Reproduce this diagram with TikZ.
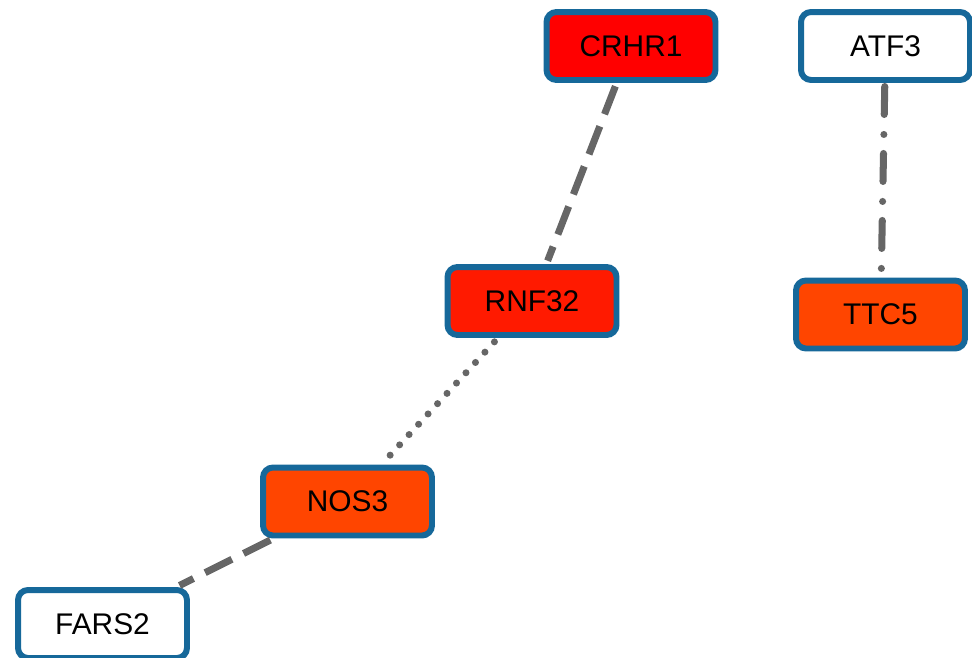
\documentclass[tikz,border=0pt]{standalone}
\usepackage{fontspec}
\setmainfont{Liberation Sans}
\usepackage{xcolor}
\usepackage{tikz}
\usetikzlibrary{calc}
\definecolor{genebd}{RGB}{22,104,154}
\definecolor{edgegray}{RGB}{102,102,102}
\definecolor{upred}{RGB}{255,0,0}
\definecolor{upredb}{RGB}{255,26,0}
\definecolor{uporange}{RGB}{255,69,0}
\tikzset{gene/.style={draw=genebd,line width=3.4pt,rounded corners=0.2cm,minimum width=3.38cm,minimum height=1.36cm,inner sep=0pt,font=\fontsize{17}{20}\selectfont},
  link/.style={draw=edgegray,line width=4pt},
  longdash/.style={link,dash pattern=on 0.6cm off 0.26cm},
  dotline/.style={link,line cap=round,dash pattern=on 0cm off 0.28cm},
  dashdotline/.style={link,line cap=round,dash pattern=on 0.56cm off 0.4cm on 0cm off 0.38cm}}

\begin{document}
\begin{tikzpicture}[x=0.02cm,y=-0.02cm]
\useasboundingbox (0,0) rectangle (972,657);
\node [gene,fill=upred] (crhr1) at (631,46) {CRHR1};
\node [gene,fill=white] (atf3) at (885.5,46) {ATF3};
\node [gene,fill=upredb] (rnf32) at (532,301) {RNF32};
\node [gene,fill=uporange] (ttc5) at (880.5,314.5) {TTC5};
\node [gene,fill=uporange] (nos3) at (347.5,501.5) {NOS3};
\node [gene,fill=white] (fars2) at (102.5,624) {FARS2};
\draw [longdash,shorten <=2pt,shorten >=2pt] (crhr1) -- (rnf32);
\draw [dashdotline,shorten <=2pt,shorten >=2pt] (atf3) -- (ttc5);
\draw [dotline,shorten <=3pt,shorten >=3pt] (rnf32) -- (nos3);
\draw [longdash,shorten <=2pt,shorten >=2pt] (nos3) -- (fars2);
\end{tikzpicture}
\end{document}
